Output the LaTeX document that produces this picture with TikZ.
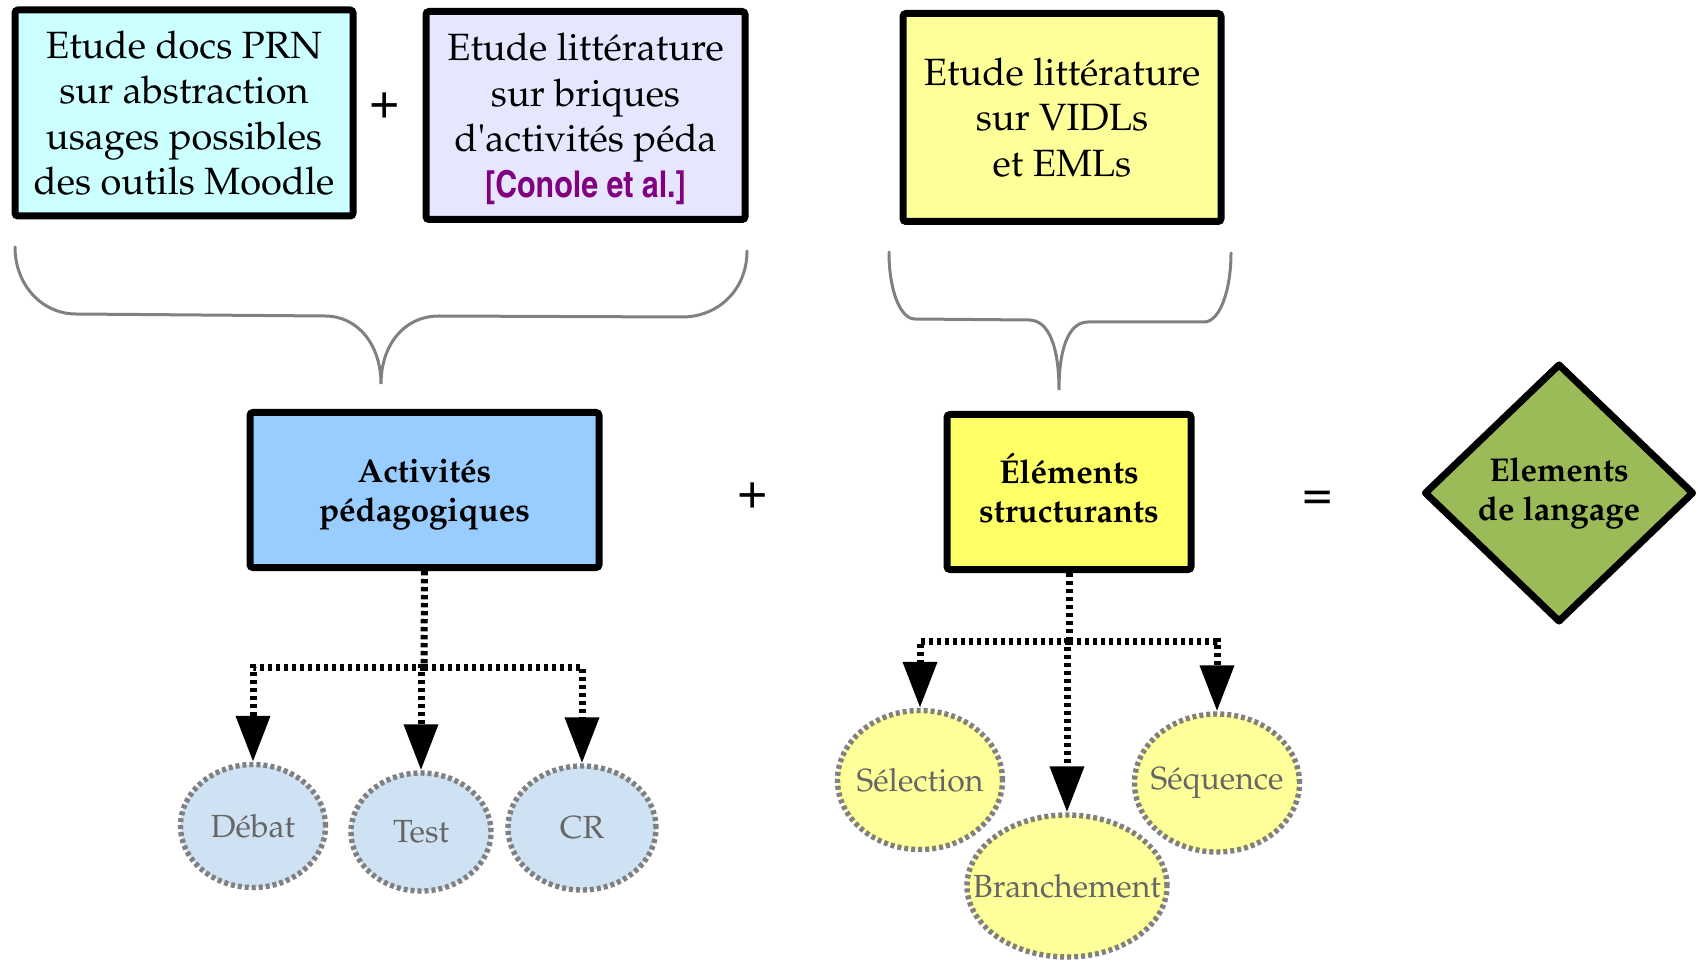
\documentclass[tikz,border=0pt]{standalone}
\usepackage[T1]{fontenc}
\renewcommand{\rmdefault}{ppl}
\usetikzlibrary{shapes.geometric,arrows.meta}

\definecolor{cyanfill}{HTML}{CCFFFF}
\definecolor{lavfill}{HTML}{E6E6FF}
\definecolor{vidlfill}{HTML}{FFFF99}
\definecolor{actfill}{HTML}{99CCFF}
\definecolor{elemfill}{HTML}{FFFF66}
\definecolor{langfill}{HTML}{9BBB59}
\definecolor{blueleaf}{HTML}{CFE2F3}
\definecolor{yellowleaf}{HTML}{FFFF99}
\definecolor{leafgray}{HTML}{808080}
\definecolor{leaftext}{HTML}{666666}
\definecolor{bracegray}{HTML}{808080}
\definecolor{refpurple}{HTML}{800080}

\newcommand{\refsans}{\fontfamily{phv}\fontseries{bc}\fontsize{18.5}{22.75}\selectfont\color{refpurple}}

\tikzset{
  topbox/.style={draw=black, line width=3.5pt, rounded corners=1.5pt, align=center,
    inner sep=0pt, font=\fontsize{19}{22.75}\selectfont},
  midbox/.style={draw=black, line width=3.5pt, rounded corners=1.5pt, align=center,
    inner sep=0pt, font=\fontsize{16.5}{19.5}\selectfont\bfseries},
  leaf/.style={ellipse, draw=leafgray, line width=2.7pt, dash pattern=on 2pt off 1.5pt,
    text=leaftext, inner sep=0pt, font=\fontsize{16}{19}\selectfont},
  trunk/.style={draw=black, line width=3.5pt, dash pattern=on 2.2pt off 1.8pt},
  link/.style={trunk, -{Triangle[width=16.5pt,length=23pt]}},
  brace/.style={draw=bracegray, line width=1.5pt, line cap=round},
  sign/.style={inner sep=0pt, font=\fontfamily{phv}\fontsize{26}{26}\selectfont}
}

\begin{document}
\begin{tikzpicture}[x=0.5pt,y=-0.5pt]
\useasboundingbox (0,0) rectangle (1698,962);

% sources
\node[topbox, fill=cyanfill, minimum width=169pt, minimum height=103pt] (prn) at (184,113)
  {Etude docs PRN\\sur abstraction\\usages possibles\\des outils Moodle};
\node[sign] (plusA) at (385,104) {+};
\node[topbox, fill=lavfill, minimum width=159.5pt, minimum height=104pt] (conole) at (585.5,115.5)
  {\rule{0pt}{17pt}Etude litt\'erature\\sur briques\\d\textquotesingle activit\'es p\'eda\\{\refsans [Conole et al.]}};
\node[topbox, fill=vidlfill, minimum width=159pt, minimum height=104pt] (vidl) at (1062,117.5)
  {Etude litt\'erature\\sur VIDLs\\et EMLs};

% braces
\draw[brace] (15,247) .. controls (15,285) and (42,314) .. (76,314) -- (325,316)
  .. controls (358,316) and (381,345) .. (381,384)
  .. controls (381,345) and (404,316) .. (439,316) -- (682,317)
  .. controls (718,317) and (747,290) .. (747,251);
\draw[brace] (889,252) .. controls (889,290) and (900,319) .. (915,319) -- (1029,320)
  .. controls (1050,320) and (1059,350) .. (1059,390)
  .. controls (1059,350) and (1068,322) .. (1088,322) -- (1204,322)
  .. controls (1220,322) and (1231,290) .. (1231,253);

% results
\node[midbox, fill=actfill, minimum width=174.5pt, minimum height=77.5pt] (act) at (424.5,490)
  {\rule{0pt}{16.5pt}Activit\'es\\p\'edagogiques};
\node[sign] (plusB) at (753,494) {+};
\node[midbox, fill=elemfill, minimum width=122pt, minimum height=77.5pt] (elem) at (1069,492)
  {\'El\'ements\\structurants\rule[-4pt]{0pt}{0pt}};
\node[sign] (equal) at (1318,499) {=};
\node[diamond, draw=black, line width=3.5pt, line join=round, fill=langfill, inner sep=0pt,
  minimum width=135pt, minimum height=129.5pt, align=center,
  font=\fontsize{16.5}{19.5}\selectfont\bfseries] (lang) at (1559,493) {Elements\\de langage};

% activity leaves
\node[leaf, fill=blueleaf, minimum width=72.5pt, minimum height=61.5pt] (debat) at (253,826) {\makebox[0pt]{D\'ebat}};
\node[leaf, fill=blueleaf, minimum width=70pt, minimum height=59pt] (test) at (421,832) {\makebox[0pt]{Test}};
\node[leaf, fill=blueleaf, minimum width=74pt, minimum height=62pt] (cr) at (582,828) {\makebox[0pt]{CR}};

% structuring leaves
\node[leaf, fill=yellowleaf, minimum width=82.5pt, minimum height=69.5pt] (sel) at (920,780) {\makebox[0pt]{S\'election}};
\node[leaf, fill=yellowleaf, minimum width=82.5pt, minimum height=69pt] (seq) at (1217,783) {\makebox[0pt]{S\'equence}};
\node[leaf, fill=yellowleaf, minimum width=100pt, minimum height=71pt] (branch) at (1067,886) {\makebox[0pt]{Branchement}};

% tree connectors
\coordinate (jL) at (424,667);
\draw[trunk] (act.south) -- (jL);
\draw[link] (jL) -| (debat.north);
\draw[link] (jL) -| (test.north);
\draw[link] (jL) -| (cr.north);

\coordinate (jR) at (1069,641);
\draw[trunk] (elem.south) -- (jR);
\draw[link] (jR) -| (sel.north);
\draw[link] (jR) -| (seq.north);
\draw[link] (jR) -| (branch.north);
\end{tikzpicture}
\end{document}
